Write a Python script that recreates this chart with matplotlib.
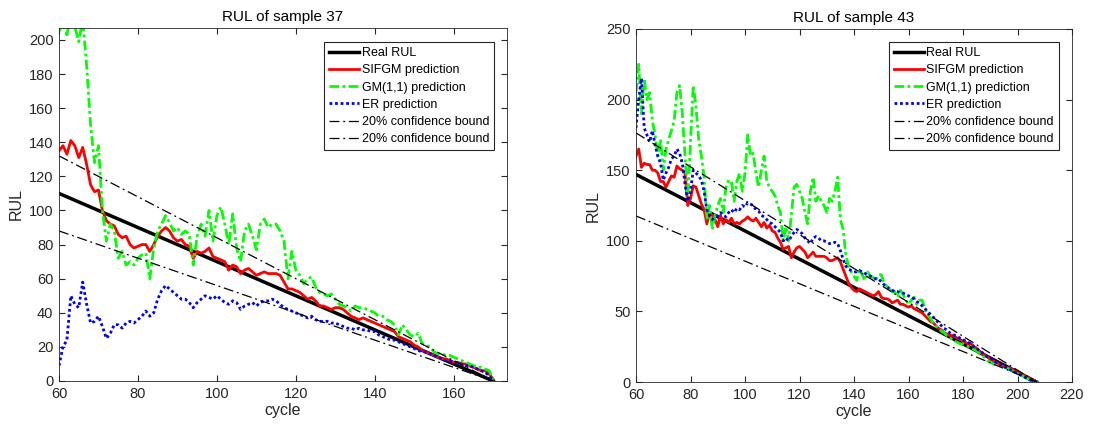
import numpy as np
import matplotlib
matplotlib.use("Agg")
import matplotlib.pyplot as plt

plt.rcParams["font.family"] = ["Liberation Sans", "DejaVu Sans"]

# ==========================================================
# Sample 37
# ==========================================================
cycle_37 = np.arange(60, 171)

real_37_cycle = [60, 170]
real_37 = [110, 0]
upper_37 = [132, 0]
lower_37 = [88, 0]

sifgm_37 = [135, 138, 133, 141, 138, 131, 137, 127, 115, 111,
            112, 100, 94, 92, 91, 86, 84, 85, 80, 78,
            79, 80, 80, 76, 80, 85, 88, 90, 88, 84,
            82, 83, 80, 79, 72, 76, 75, 76, 78, 73,
            72, 71, 70, 65, 68, 67, 63, 65, 66, 64,
            62, 63, 64, 63, 63, 63, 62, 58, 54, 54,
            53, 52, 50, 48, 49, 47, 44, 44, 43, 42,
            43, 43, 42, 40, 38, 37, 36, 37, 36, 35,
            34, 33, 32, 31, 30, 29, 26, 25, 24, 23,
            21, 20, 18, 17, 16, 15, 14, 13, 13, 12,
            11, 11, 10, 10, 9, 8, 7, 6, 6, 4, 1]

gm_37 = [205, 210, 203, 215, 208, 199, 212, 185, 150, 128,
         138, 100, 82, 92, 88, 72, 76, 68, 70, 68,
         72, 74, 75, 60, 78, 88, 92, 97, 93, 88,
         90, 86, 88, 86, 68, 85, 92, 85, 100, 82,
         97, 102, 92, 80, 98, 78, 70, 88, 92, 85,
         77, 92, 95, 90, 92, 92, 88, 82, 60, 76,
         65, 62, 57, 60, 61, 55, 52, 51, 50, 51,
         48, 45, 44, 43, 41, 44, 43, 43, 42, 41,
         40, 38, 38, 36, 35, 33, 27, 33, 30, 27,
         26, 28, 22, 21, 20, 17, 16, 16, 15, 15,
         14, 13, 12, 11, 10, 9, 8, 8, 7, 6, 1]

er_37 = [9, 20, 24, 50, 45, 43, 58, 45, 34, 35,
         38, 32, 25, 28, 33, 33, 31, 34, 35, 34,
         36, 38, 41, 38, 40, 48, 53, 56, 54, 52,
         50, 48, 48, 46, 43, 46, 48, 50, 49, 48,
         50, 48, 46, 45, 47, 46, 42, 44, 45, 46,
         44, 46, 47, 47, 48, 47, 45, 43, 42, 41,
         40, 39, 38, 37, 38, 36, 35, 35, 35, 34,
         34, 33, 32, 31, 31, 30, 31, 30, 30, 29,
         29, 27, 26, 25, 24, 24, 23, 22, 21, 20,
         19, 18, 17, 17, 16, 15, 14, 13, 12, 12,
         11, 10, 10, 9, 9, 8, 7, 6, 5, 3, 0]

# ==========================================================
# Sample 43
# ==========================================================
cycle_43 = np.arange(60, 208)

real_43_cycle = [60, 207]
real_43 = [147, 0]
upper_43 = [176.4, 0]
lower_43 = [117.6, 0]

sifgm_43 = [160, 165, 152, 155, 154, 154, 150, 150, 148, 142,
            142, 138, 142, 146, 145, 153, 151, 150, 148, 125,
            130, 139, 138, 132, 126, 122, 112, 120, 118, 115,
            110, 118, 112, 115, 113, 116, 112, 113, 112, 114,
            115, 117, 115, 114, 116, 113, 110, 113, 109, 111,
            107, 106, 102, 99, 94, 95, 96, 88, 92, 95,
            96, 94, 92, 88, 90, 92, 89, 89, 89, 89,
            88, 86, 86, 87, 88, 85, 80, 75, 70, 67,
            65, 64, 66, 65, 64, 63, 62, 61, 62, 64,
            60, 59, 59, 58, 56, 57, 58, 55, 55, 54,
            53, 54, 52, 51, 50, 49, 47, 45, 43, 42,
            40, 38, 37, 35, 34, 33, 33, 32, 31, 30,
            29, 28, 27, 27, 25, 24, 22, 20, 19, 18,
            16, 15, 14, 13, 12, 11, 10, 10, 9, 8,
            7, 6, 5, 4, 3, 2, 1, 0]

gm_43 = [205, 225, 190, 215, 200, 205, 185, 175, 160, 172,
         150, 165, 172, 178, 185, 205, 210, 190, 160, 130,
         170, 210, 195, 172, 160, 145, 115, 125, 108, 118,
         125, 130, 120, 138, 143, 142, 128, 142, 148, 135,
         148, 175, 160, 162, 148, 138, 150, 160, 142, 138,
         135, 132, 125, 120, 100, 110, 100, 118, 138, 140,
         135, 130, 120, 112, 135, 145, 128, 132, 128, 125,
         120, 130, 128, 135, 145, 115, 108, 90, 82, 78,
         75, 72, 80, 76, 72, 78, 75, 74, 72, 76,
         76, 70, 68, 66, 64, 64, 60, 65, 62, 58,
         55, 58, 60, 55, 58, 58, 52, 48, 45, 42,
         40, 38, 36, 35, 33, 32, 30, 29, 28, 27,
         27, 26, 25, 24, 23, 22, 20, 19, 17, 15,
         14, 13, 12, 12, 11, 10, 10, 9, 8, 7,
         6, 5, 4, 3, 2, 1, 1, 0]

er_43 = [180, 200, 215, 180, 175, 170, 178, 168, 160, 155,
         143, 148, 152, 158, 160, 165, 162, 155, 140, 128,
         135, 150, 148, 146, 143, 135, 122, 118, 115, 117,
         118, 120, 118, 117, 120, 122, 120, 123, 122, 125,
         124, 127, 126, 125, 122, 121, 118, 117, 115, 113,
         112, 110, 108, 106, 100, 102, 100, 103, 106, 108,
         107, 105, 102, 100, 98, 102, 103, 102, 100, 100,
         99, 98, 98, 99, 98, 93, 87, 82, 80, 79,
         78, 78, 79, 78, 77, 76, 75, 74, 73, 73,
         71, 69, 68, 66, 65, 64, 64, 63, 63, 62,
         61, 60, 59, 57, 56, 54, 52, 50, 48, 46,
         44, 42, 40, 38, 37, 35, 34, 33, 32, 31,
         30, 29, 28, 27, 25, 24, 22, 21, 19, 18,
         17, 16, 14, 13, 12, 11, 10, 9, 8, 7,
         6, 5, 4, 3, 2, 1, 1, 0]

# ==========================================================
# Figure
# ==========================================================
fig = plt.figure(figsize=(10.96, 4.28), dpi=100)
ax1 = fig.add_axes([59 / 1096, 47 / 428, 448 / 1096, 353 / 428])
ax2 = fig.add_axes([636 / 1096, 46 / 428, 436 / 1096, 353 / 428])

gm_style = (0, (3.5, 1.2, 1.0, 1.2))
bound_style = (0, (8, 3, 1.5, 3))
txt_col = "#262626"


def draw_panel(ax, cyc, rc, real, up, low, sifgm, gm, er, title):
    ax.plot(rc, real, color="black", linewidth=2.5, label="Real RUL")
    ax.plot(cyc, sifgm, color="red", linewidth=2, label="SIFGM prediction")
    ax.plot(cyc, gm, color=(0, 1, 0), linewidth=2, linestyle=gm_style,
            label="GM(1,1) prediction")
    ax.plot(cyc, er, color="blue", linewidth=2, linestyle=(0, (1, 1)),
            label="ER prediction")
    ax.plot(rc, up, color="black", linewidth=0.9, linestyle=bound_style,
            label="20% confidence bound")
    ax.plot(rc, low, color="black", linewidth=0.9, linestyle=bound_style,
            label="20% confidence bound")

    ax.set_title(title, fontsize=11, color="black", pad=5)
    ax.set_xlabel("cycle", fontsize=11.5, color=txt_col, labelpad=2)
    ax.set_ylabel("RUL", fontsize=11.5, color=txt_col, labelpad=4)
    ax.tick_params(direction="in", top=True, right=True, length=4,
                   labelsize=10.5, colors=txt_col, pad=4)
    for sp in ax.spines.values():
        sp.set_color("#262626")
        sp.set_linewidth(0.6)


draw_panel(ax1, cycle_37, real_37_cycle, real_37, upper_37, lower_37,
           sifgm_37, gm_37, er_37, "RUL of sample 37")
ax1.set_xlim(60, 173.5)
ax1.set_ylim(0, 207)
ax1.set_xticks(np.arange(60, 161, 20))
ax1.set_yticks(np.arange(0, 201, 20))
leg1 = ax1.legend(loc="upper right", bbox_to_anchor=(0.971, 0.960),
                  fontsize=9, handlelength=2.4, handletextpad=0.2,
                  labelspacing=0.42, borderpad=0.4, borderaxespad=0,
                  fancybox=False, framealpha=1, edgecolor="#262626")

draw_panel(ax2, cycle_43, real_43_cycle, real_43, upper_43, lower_43,
           sifgm_43, gm_43, er_43, "RUL of sample 43")
ax2.set_xlim(60, 220)
ax2.set_ylim(0, 250)
ax2.set_xticks(np.arange(60, 221, 20))
ax2.set_yticks(np.arange(0, 251, 50))
leg2 = ax2.legend(loc="upper right", bbox_to_anchor=(0.970, 0.963),
                  fontsize=9, handlelength=2.4, handletextpad=0.2,
                  labelspacing=0.42, borderpad=0.4, borderaxespad=0,
                  fancybox=False, framealpha=1, edgecolor="#262626")

for leg in (leg1, leg2):
    leg.get_frame().set_linewidth(0.8)

fig.savefig("out.png", dpi=100)
